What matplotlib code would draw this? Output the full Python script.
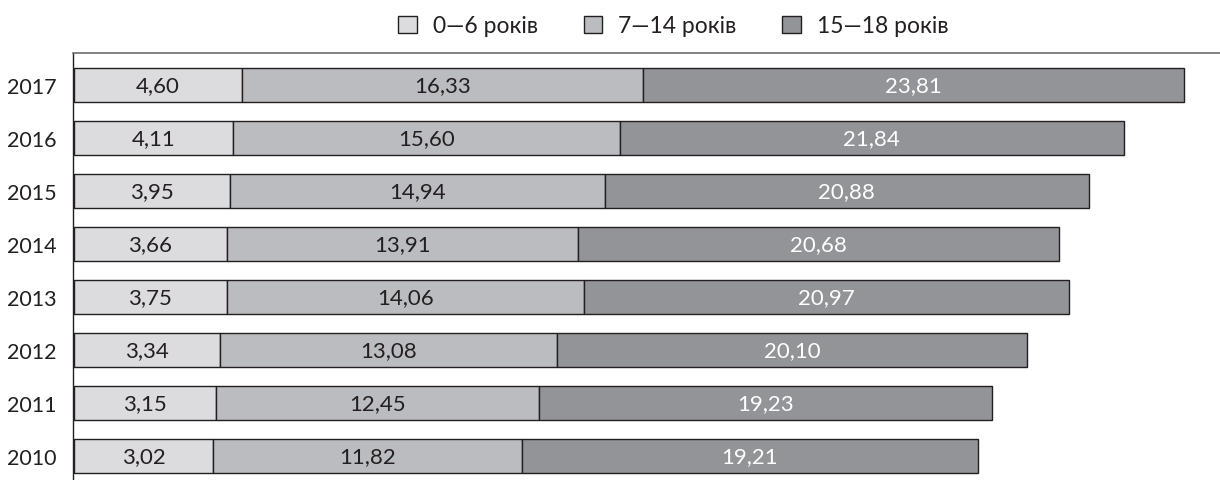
import numpy as np
import matplotlib.pyplot as plt

plt.rcParams['font.family'] = ['Lato', 'DejaVu Sans']

years = ["2010", "2011", "2012", "2013", "2014", "2015", "2016", "2017"]
series_names = ["0—6 років", "7—14 років", "15—18 років"]

# printed values (labels on the bars)
age_0_6 = [3.02, 3.15, 3.34, 3.75, 3.66, 3.95, 4.11, 4.60]
age_7_14 = [11.82, 12.45, 13.08, 14.06, 13.91, 14.94, 15.60, 16.33]
age_15_18 = [19.21, 19.23, 20.10, 20.97, 20.68, 20.88, 21.84, 23.81]

# segment lengths as drawn in the original (not proportional to the labels)
len_0_6 = [139, 142, 146, 153, 153, 156, 159, 168]
len_7_14 = [309, 323, 337, 357, 351, 375, 387, 402]
len_15_18 = [457, 454, 471, 486, 482, 485, 505, 541]

colors = ["#dcdcde", "#bbbcbf", "#939497"]
text_colors = ["#231f20", "#231f20", "white"]


def fmt(v):
    return f"{v:.2f}".replace(".", ",")


fig = plt.figure(figsize=(12.2, 4.81), dpi=100)
ax = fig.add_axes([0.0598, 0.0, 0.9402, 0.8877])

y = np.arange(len(years))
left = np.zeros(len(years))
handles = []
for lens, vals, col, tcol, name in zip([len_0_6, len_7_14, len_15_18],
                                       [age_0_6, age_7_14, age_15_18],
                                       colors, text_colors, series_names):
    lens = np.array(lens, dtype=float)
    bars = ax.barh(y, lens, left=left, height=0.64, color=col,
                   edgecolor="#231f20", linewidth=1.0, label=name)
    handles.append(bars)
    for yi, l0, ln, v in zip(y, left, lens, vals):
        ax.text(l0 + ln / 2, yi, fmt(v), ha="center", va="center",
                fontsize=16, color=tcol)
    left = left + lens

ax.set_xlim(-1, 1147)
ax.set_ylim(-0.45, 7.6)
ax.set_yticks(y)
ax.set_yticklabels(years, fontsize=15.5, color="#231f20")
ax.tick_params(axis="y", length=0, pad=12)
ax.set_xticks([])
ax.spines["right"].set_visible(False)
ax.spines["bottom"].set_visible(False)
ax.spines["top"].set_color("#6d6e71")
ax.spines["top"].set_linewidth(1.2)
ax.spines["left"].set_color("#231f20")
ax.spines["left"].set_linewidth(1.0)

fig.legend(handles=handles, loc="center", bbox_to_anchor=(0.552, 0.944),
           ncol=3, frameon=False, fontsize=16.5, handlelength=0.8,
           handleheight=0.8, handletextpad=0.7, columnspacing=2.0,
           labelcolor="#231f20")

fig.savefig("out.png", dpi=100)
